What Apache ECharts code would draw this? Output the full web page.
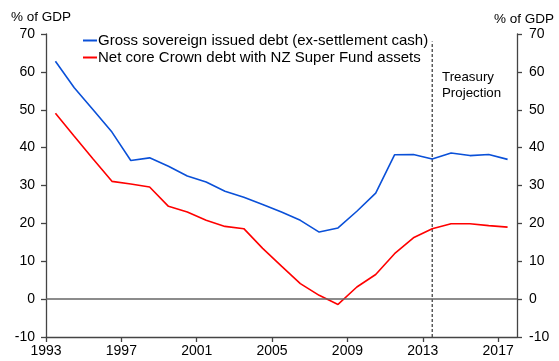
<!DOCTYPE html>
<html><head><meta charset="utf-8">
<script src="https://cdn.jsdelivr.net/npm/echarts@6/dist/echarts.min.js"></script>
<style>html,body{margin:0;padding:0;background:#fff}#c{width:559px;height:361px}</style>
</head><body><div id="c"></div>
<script>
var years = [1993.5,1994.5,1995.5,1996.5,1997.5,1998.5,1999.5,2000.5,2001.5,2002.5,2003.5,2004.5,2005.5,2006.5,2007.5,2008.5,2009.5,2010.5,2011.5,2012.5,2013.5,2014.5,2015.5,2016.5,2017.5];
var grossDebt = [62.8,55.8,50.0,44.1,36.6,37.3,35.1,32.5,30.9,28.5,26.9,25.0,23.0,20.8,17.7,18.8,23.2,28.0,38.1,38.2,37.0,38.6,37.9,38.2,36.9];
var netDebt = [49.1,43.0,37.0,31.1,30.4,29.6,24.5,23.0,20.8,19.2,18.6,13.4,8.7,4.1,1.0,-1.4,3.2,6.5,12.0,16.2,18.6,19.9,19.9,19.4,19.0];
var seriesNames = ['Gross sovereign issued debt (ex-settlement cash)','Net core Crown debt with NZ Super Fund assets'];
var projectionYear = 2013.5;
var projectionSpan = [-10, 68];
var xTicks = {min:1993, max:2018, interval:4};
var yTicks = {min:-10, max:70, interval:10};

function pairs(xs, ys){ return xs.map(function(x,i){return [x, ys[i]];}); }

var chart = echarts.init(document.getElementById('c'));
var axisCol = '#444';
var font = 'Liberation Sans, Arial, sans-serif';
function yAxisFor(pos, margin){
  return {
    type:'value', position:pos, min:yTicks.min, max:yTicks.max, interval:yTicks.interval,
    axisLine:{show:true, lineStyle:{color:axisCol, width:1.3}},
    axisTick:{show:true, length:5, lineStyle:{color:axisCol, width:1.3}},
    axisLabel:{color:'#000', fontSize:14, fontFamily:font, margin:margin},
    splitLine:{show:false}
  };
}
chart.setOption({
  animation:false,
  textStyle:{fontFamily:font},
  grid:{left:46, right:42, top:34, bottom:24, containLabel:false},
  legend:{
    orient:'vertical', left:78, top:28, itemGap:2,
    itemWidth:14, itemHeight:2, icon:'rect',
    textStyle:{color:'#000', fontSize:15, lineHeight:15, fontFamily:font, padding:[0,0,0,-4]},
    data:seriesNames
  },
  xAxis:{
    type:'value', min:xTicks.min, max:xTicks.max, interval:xTicks.interval,
    axisLine:{show:true, onZero:false, lineStyle:{color:axisCol, width:1.3}},
    axisTick:{show:true, length:5, lineStyle:{color:axisCol, width:1.3}},
    axisLabel:{color:'#000', fontSize:14, fontFamily:font, margin:7, showMaxLabel:false,
      formatter:function(v){return String(v);}},
    splitLine:{show:false}
  },
  yAxis:[ yAxisFor('left', 11), yAxisFor('right', 12) ],
  graphic:[
    {type:'text', left:11, top:10, style:{text:'% of GDP', fontSize:13.5, fontFamily:font, fill:'#000'}},
    {type:'text', left:494, top:12, style:{text:'% of GDP', fontSize:13.5, fontFamily:font, fill:'#000'}},
    {type:'text', left:442, top:69, style:{text:'Treasury\nProjection', fontSize:13.3, lineHeight:16, fontFamily:font, fill:'#000'}}
  ],
  series:[
    {name:seriesNames[0], type:'line', data:pairs(years, grossDebt), symbol:'none',
      lineStyle:{color:'#0a50d8', width:1.6}, itemStyle:{color:'#0a50d8'}, z:3,
      markLine:{silent:true, symbol:'none', label:{show:false},
        lineStyle:{color:'#666', width:1.5, type:'solid'}, data:[{yAxis:0}]}},
    {name:seriesNames[1], type:'line', data:pairs(years, netDebt), symbol:'none',
      lineStyle:{color:'#ff0000', width:1.6}, itemStyle:{color:'#ff0000'}, z:3},
    {name:'projection', type:'line', data:[[projectionYear, projectionSpan[0]],[projectionYear, projectionSpan[1]]],
      symbol:'none', lineStyle:{color:'#333', width:1.2, type:[3,2]}, z:2, silent:true}
  ]
});
</script></body></html>
